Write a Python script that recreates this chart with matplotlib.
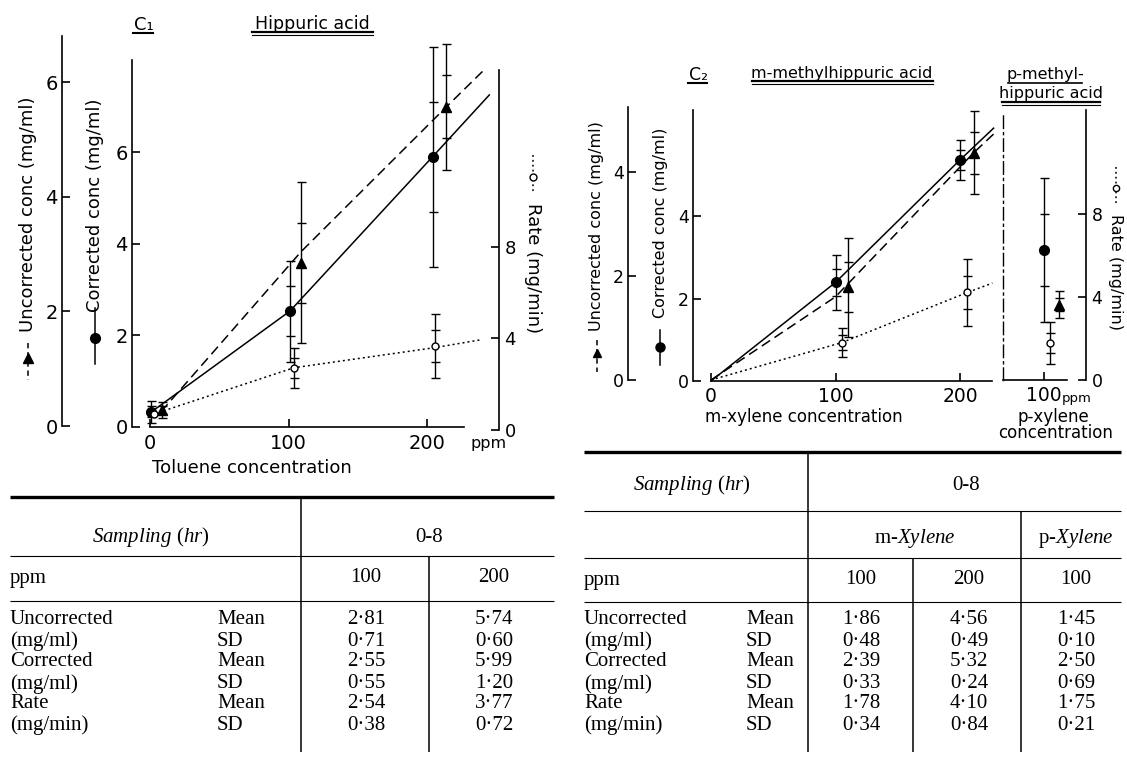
import numpy as np
import matplotlib
matplotlib.use("Agg")
import matplotlib.pyplot as plt

plt.rcParams['font.family'] = ['DejaVu Sans']
plt.rcParams['mathtext.fontset'] = 'custom'
plt.rcParams['mathtext.rm'] = 'Liberation Serif'
plt.rcParams['mathtext.it'] = 'Liberation Serif:italic'

# ------------------------------------------------------------------ data
# C1 : toluene exposure -> hippuric acid
c1_xticks = [0, 100, 200]
c1_cor_ppm = [1, 101, 204]
c1_cor_mean = [0.33, 2.53, 5.90]
c1_cor_sd = [0.12, 0.55, 1.20]
c1_unc_ppm = [9, 109, 214]
c1_unc_mean = [0.28, 2.85, 5.57]
c1_unc_sd = [0.07, 0.70, 0.55]
c1_rate_ppm = [3, 104, 206]
c1_rate_mean = [0.70, 2.72, 3.65]
c1_rate_sd = [0.00, 0.44, 0.70]
c1_cor_line_ppm = [1, 101, 204, 245]
c1_cor_line = [0.33, 2.53, 5.90, 7.25]
c1_unc_line_ppm = [8, 109, 214, 241]
c1_unc_line = [0.25, 3.04, 5.57, 6.21]
c1_rate_line_ppm = [3, 104, 206, 238]
c1_rate_line = [0.70, 2.72, 3.60, 3.93]

# C2 : m-xylene -> m-methylhippuric acid
c2_xticks = [0, 100, 200]
c2_cor_ppm = [100, 200]
c2_cor_mean = [2.39, 5.36]
c2_cor_sd = [0.33, 0.24]
c2_unc_ppm = [110, 211]
c2_unc_mean = [1.78, 4.37]
c2_unc_sd = [0.48, 0.40]
c2_rate_ppm = [105, 206]
c2_rate_mean = [1.80, 4.22]
c2_rate_sd = [0.35, 0.80]
c2_cor_line_ppm = [0, 100, 200, 227]
c2_cor_line = [0.00, 2.39, 5.36, 6.13]
c2_unc_line_ppm = [0, 100, 211, 227]
c2_unc_line = [0.00, 1.60, 4.37, 4.73]
c2_rate_line_ppm = [0, 105, 206, 226]
c2_rate_line = [0.00, 1.80, 4.22, 4.67]

# p-xylene -> p-methylhippuric acid
p_xticks = [100]
p_cor_ppm = [100]
p_cor_mean = [2.50]
p_cor_sd = [0.69]
p_unc_ppm = [112]
p_unc_mean = [1.45]
p_unc_sd = [0.13]
p_rate_ppm = [105]
p_rate_mean = [1.78]
p_rate_sd = [0.50]

# tables
t1_ppm = ["100", "200"]
t1_unc_mean = [2.81, 5.74]
t1_unc_sd = [0.71, 0.60]
t1_cor_mean = [2.55, 5.99]
t1_cor_sd = [0.55, 1.20]
t1_rate_mean = [2.54, 3.77]
t1_rate_sd = [0.38, 0.72]

t2_ppm = ["100", "200", "100"]
t2_unc_mean = [1.86, 4.56, 1.45]
t2_unc_sd = [0.48, 0.49, 0.10]
t2_cor_mean = [2.39, 5.32, 2.50]
t2_cor_sd = [0.33, 0.24, 0.69]
t2_rate_mean = [1.78, 4.10, 1.75]
t2_rate_sd = [0.34, 0.84, 0.21]

row_names = ["Uncorrected", "(mg/ml)", "Corrected", "(mg/ml)", "Rate", "(mg/min)"]
stat_names = ["Mean", "SD"]

# ------------------------------------------------------------------ figure
W, H = 1127, 758
PT = 72.0 / 100.0
fig = plt.figure(figsize=(W / 100, H / 100), dpi=100)
fig.patch.set_facecolor('white')

cv = fig.add_axes([0, 0, 1, 1])
cv.set_xlim(0, W)
cv.set_ylim(H, 0)
cv.axis('off')

SERIF = 'Liberation Serif'
LW_AX = 1.2
K = 'black'


def make_axes(xl, xr, yt, yb, x_zero, px_ppm, px_unit):
    ax = fig.add_axes([xl / W, 1 - yb / H, (xr - xl) / W, (yb - yt) / H])
    ax.set_xlim((xl - x_zero) / px_ppm, (xr - x_zero) / px_ppm)
    ax.set_ylim(0, (yb - yt) / px_unit)
    ax.patch.set_visible(False)
    for s in ax.spines.values():
        s.set_visible(False)
        s.set_linewidth(LW_AX)
    ax.tick_params(which='both', direction='in', length=8 * PT, width=LW_AX, color=K)
    ax.set_xticks([])
    ax.set_yticks([])
    return ax


def y_axis(ax, ticks, side, size, pad):
    ax.spines[side].set_visible(True)
    ax.set_yticks(ticks)
    ax.set_yticklabels([str(t) for t in ticks], fontsize=size)
    if side == 'right':
        ax.yaxis.tick_right()
    ax.tick_params(axis='y', pad=pad)


def x_axis(ax, ticks, xmax, size, pad):
    ax.spines['bottom'].set_visible(True)
    lo, hi = ax.get_xlim()
    if xmax is not None:
        lo, hi = 0, xmax
    ax.spines['bottom'].set_bounds(lo, hi)
    ax.set_xticks(ticks)
    ax.set_xticklabels([str(t) for t in ticks], fontsize=size)
    ax.tick_params(axis='x', pad=pad)


def series(ax, x, mean, sd, marker, ms, mfc):
    x = np.asarray(x, float)
    m = np.asarray(mean, float)
    s = np.asarray(sd, float)
    keep = s > 0
    if keep.any():
        ax.errorbar(x[keep], m[keep], yerr=2 * s[keep], fmt='none', ecolor=K,
                    elinewidth=1.0, capsize=4.5 * PT, capthick=1.0, clip_on=False)
        for sign in (1, -1):
            ax.plot(x[keep], m[keep] + sign * s[keep], ls='none', marker='_',
                    ms=9 * PT, mew=1.0, color=K, clip_on=False)
    ax.plot(x, m, ls='none', marker=marker, ms=ms, mfc=mfc, mec=K, mew=1.0,
            clip_on=False, zorder=5)


def trend(ax, x, y, style):
    styles = {'solid': '-', 'dash': (0, (6.5, 3.5)), 'dot': (0, (1.3, 2.0))}
    ax.plot(x, y, color=K, lw=1.1, ls=styles[style], clip_on=False)


# ------------------------------------------------------------------ C1 panel
k1, x01 = 1.385, 150
c1_cor = make_axes(132, 500, 60, 427, x01, k1, 45.8)
y_axis(c1_cor, [0, 2, 4, 6], 'left', 14, 3)
x_axis(c1_cor, c1_xticks, 227, 14, 5)
c1_unc = make_axes(62, 500, 36, 426, x01, k1, 57.3)
y_axis(c1_unc, [0, 2, 4, 6], 'left', 14, 3)
c1_rate = make_axes(150, 499, 70, 430, x01, k1, 22.9)
y_axis(c1_rate, [0, 4, 8], 'right', 13, 4)

trend(c1_cor, c1_cor_line_ppm, c1_cor_line, 'solid')
trend(c1_unc, c1_unc_line_ppm, c1_unc_line, 'dash')
trend(c1_rate, c1_rate_line_ppm, c1_rate_line, 'dot')
series(c1_cor, c1_cor_ppm, c1_cor_mean, c1_cor_sd, 'o', 7.0, K)
series(c1_unc, c1_unc_ppm, c1_unc_mean, c1_unc_sd, '^', 7.0, K)
series(c1_rate, c1_rate_ppm, c1_rate_mean, c1_rate_sd, 'o', 5.0, 'white')

# ------------------------------------------------------------------ C2 panel
k2, x02 = 1.245, 711
c2_cor = make_axes(693, 1000, 110, 381, x02, k2, 41.25)
y_axis(c2_cor, [0, 2, 4], 'left', 12.5, 3)
x_axis(c2_cor, c2_xticks, 226, 13.5, 4)
c2_unc = make_axes(628, 1000, 107, 380, x02, k2, 52.0)
y_axis(c2_unc, [0, 2, 4], 'left', 12.5, 3)
c2_rate = make_axes(711, 1086, 110, 380, x02, k2, 20.75)
y_axis(c2_rate, [0, 4, 8], 'right', 12.5, 4)

trend(c2_cor, c2_cor_line_ppm, c2_cor_line, 'solid')
trend(c2_unc, c2_unc_line_ppm, c2_unc_line, 'dash')
trend(c2_rate, c2_rate_line_ppm, c2_rate_line, 'dot')
series(c2_cor, c2_cor_ppm, c2_cor_mean, c2_cor_sd, 'o', 7.0, K)
series(c2_unc, c2_unc_ppm, c2_unc_mean, c2_unc_sd, '^', 7.0, K)
series(c2_rate, c2_rate_ppm, c2_rate_mean, c2_rate_sd, 'o', 5.0, 'white')

# p-xylene sub panel
xp0 = 1044 - 100 * k2
p_ax = make_axes(1003, 1067, 112, 380, xp0, k2, 52.0)
p_ax.spines['left'].set_visible(True)
p_ax.spines['left'].set_linestyle((0, (9, 3, 1.5, 3)))
p_ax.spines['left'].set_linewidth(1.0)
x_axis(p_ax, p_xticks, None, 13.5, 4)
p_rate = make_axes(1003, 1067, 112, 380, xp0, k2, 20.75)
series(p_ax, p_cor_ppm, p_cor_mean, p_cor_sd, 'o', 7.0, K)
series(p_ax, p_unc_ppm, p_unc_mean, p_unc_sd, '^', 7.0, K)
series(p_rate, p_rate_ppm, p_rate_mean, p_rate_sd, 'o', 5.0, 'white')

# ------------------------------------------------------------------ annotations
def legend_sym(x, y0, y1, ym, style, marker, ms, mfc):
    ls = {'solid': '-', 'dash': (0, (3.5, 2.5)), 'dot': (0, (1.2, 2.0))}[style]
    cv.plot([x, x], [y0, y1], color=K, lw=1.1, ls=ls)
    cv.plot([x], [ym], marker=marker, ms=ms, mfc=mfc, mec=K, mew=1.0, color=K)


def rlabel(x, y, s, size, rot):
    cv.text(x, y, s, rotation=rot, ha='center', va='center', fontsize=size)


# C1 axis labels
rlabel(28, 214, 'Uncorrected conc (mg/ml)', 13, 90)
legend_sym(28, 343, 380, 358, 'dash', '^', 6.5, K)
rlabel(95, 205, 'Corrected conc (mg/ml)', 13, 90)
legend_sym(95, 308, 364, 338, 'solid', 'o', 7.0, K)
rlabel(533, 268, 'Rate (mg/min)', 13, -90)
legend_sym(533, 155, 192, 177, 'dot', 'o', 5.0, 'white')

cv.text(252, 473, 'Toluene concentration', ha='center', va='baseline', fontsize=13)
cv.text(470, 448, 'ppm', ha='left', va='baseline', fontsize=11.5)

# C1 titles
cv.text(134, 30, 'C₁', ha='left', va='baseline', fontsize=13)
cv.plot([133, 153], [33, 33], color=K, lw=1.5)
cv.text(312, 29, 'Hippuric acid', ha='center', va='baseline', fontsize=12.5)
cv.plot([252, 373], [32, 32], color=K, lw=1.6)
cv.plot([252, 373], [35, 35], color=K, lw=0.8)

# C2 axis labels
rlabel(597, 226, 'Uncorrected conc (mg/ml)', 11.5, 90)
legend_sym(597, 340, 372, 353, 'dash', '^', 6.0, K)
rlabel(660, 223, 'Corrected conc (mg/ml)', 11.5, 90)
legend_sym(660, 330, 365, 347, 'solid', 'o', 6.5, K)
rlabel(1116, 272, 'Rate (mg/min)', 11.5, -90)
legend_sym(1116, 167, 204, 188, 'dot', 'o', 4.5, 'white')

cv.text(804, 422, 'm-xylene concentration', ha='center', va='baseline', fontsize=12)
cv.text(1053, 422, 'p-xylene', ha='center', va='baseline', fontsize=12)
cv.text(1056, 438, 'concentration', ha='center', va='baseline', fontsize=12)
cv.text(1062, 402, 'ppm', ha='left', va='baseline', fontsize=9.5)

# C2 titles
cv.text(689, 80, 'C₂', ha='left', va='baseline', fontsize=12.5)
cv.plot([688, 707], [83, 83], color=K, lw=1.5)
cv.text(842, 78, 'm-methylhippuric acid', ha='center', va='baseline', fontsize=11.5)
cv.plot([752, 933], [81, 81], color=K, lw=1.6)
cv.plot([752, 933], [84, 84], color=K, lw=0.8)
cv.text(1045, 79, 'p-methyl-', ha='center', va='baseline', fontsize=11.5)
cv.plot([1008, 1082], [83, 83], color=K, lw=1.2)
cv.text(1051, 98, 'hippuric acid', ha='center', va='baseline', fontsize=11.5)
cv.plot([1002, 1100], [102, 102], color=K, lw=1.6)
cv.plot([1002, 1100], [105, 105], color=K, lw=0.8)

# ------------------------------------------------------------------ tables
def fmt(v):
    return f"{v:.2f}".replace('.', '·')


def hline(x0, x1, y, lw):
    cv.plot([x0, x1], [y, y], color=K, lw=lw, solid_capstyle='butt')


def vline(x, y0, y1, lw=1.1):
    cv.plot([x, x], [y0, y1], color=K, lw=lw, solid_capstyle='butt')


TS = 15
row_y = [620, 641, 662, 684, 704, 725]


def tcell(x, y, s, ha='center'):
    cv.text(x, y, s, ha=ha, va='center', fontsize=TS, family=SERIF)


# left table (toluene)
hline(10, 554, 497, 2.4)
vline(301, 497, 752)
tcell(151, 537, r'$\mathit{Sampling}$ ($\mathit{hr}$)')
tcell(429, 537, '0-8')
hline(10, 554, 556, 0.8)
vline(429, 556, 752)
tcell(10, 578, 'ppm', 'left')
t1_cols = [366, 494]
for cx, lab in zip(t1_cols, t1_ppm):
    tcell(cx, 578, lab)
hline(10, 554, 601, 0.8)
t1_vals = [t1_unc_mean, t1_unc_sd, t1_cor_mean, t1_cor_sd, t1_rate_mean, t1_rate_sd]
for i, (yy, name, vals) in enumerate(zip(row_y, row_names, t1_vals)):
    tcell(10, yy, name, 'left')
    tcell(217, yy, stat_names[i % 2], 'left')
    for cx, v in zip(t1_cols, vals):
        tcell(cx, yy, fmt(v))

# right table (xylene)
hline(584, 1121, 452, 2.4)
vline(808, 452, 752)
tcell(692, 485, r'$\mathit{Sampling}$ ($\mathit{hr}$)')
tcell(966, 485, '0-8')
hline(584, 1121, 511, 0.8)
tcell(915, 538, r'm-$\mathit{Xylene}$')
tcell(1076, 538, r'p-$\mathit{Xylene}$')
vline(1021, 511, 752)
hline(584, 1121, 558, 0.8)
vline(913, 558, 752)
tcell(584, 580, 'ppm', 'left')
t2_cols = [861, 969, 1076]
for cx, lab in zip(t2_cols, t2_ppm):
    tcell(cx, 580, lab)
hline(584, 1121, 602, 0.8)
t2_vals = [t2_unc_mean, t2_unc_sd, t2_cor_mean, t2_cor_sd, t2_rate_mean, t2_rate_sd]
for i, (yy, name, vals) in enumerate(zip(row_y, row_names, t2_vals)):
    tcell(584, yy, name, 'left')
    tcell(746, yy, stat_names[i % 2], 'left')
    for cx, v in zip(t2_cols, vals):
        tcell(cx, yy, fmt(v))

fig.savefig('out.png', dpi=100, facecolor='white')
